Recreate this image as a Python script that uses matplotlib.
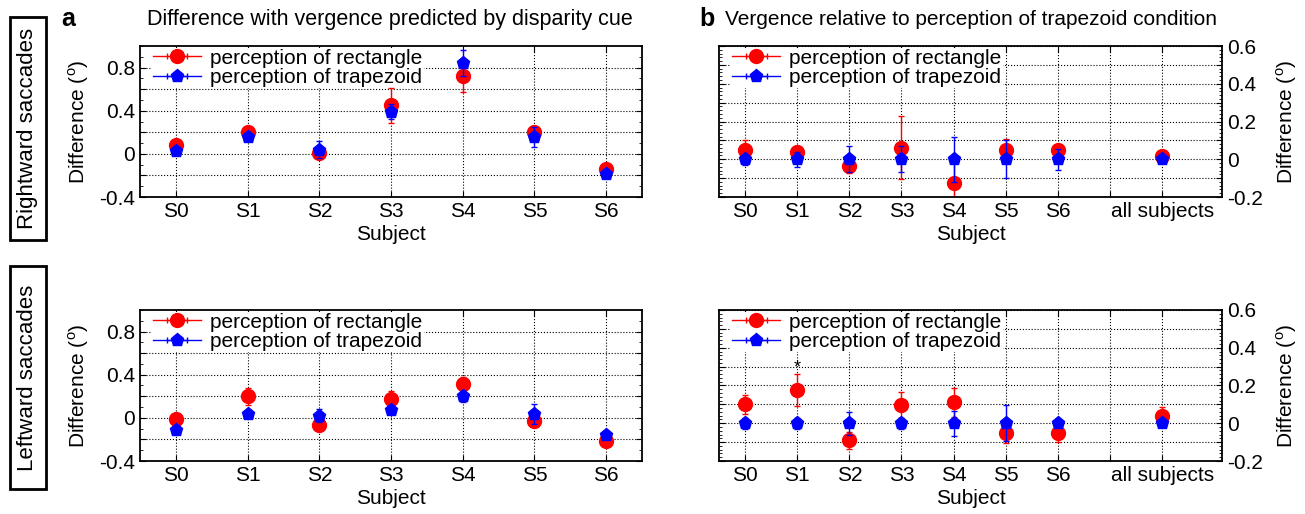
import numpy as np
import matplotlib
matplotlib.use('Agg')
import matplotlib.pyplot as plt
from matplotlib.patches import Rectangle
from matplotlib.ticker import MultipleLocator

plt.rcParams['font.family'] = ['Liberation Sans', 'DejaVu Sans']
plt.rcParams['mathtext.fontset'] = 'custom'
plt.rcParams['mathtext.rm'] = 'Liberation Sans'

subjects = ['S0', 'S1', 'S2', 'S3', 'S4', 'S5', 'S6']
subjects_b = ['S0', 'S1', 'S2', 'S3', 'S4', 'S5', 'S6', '', 'all subjects']

# panel a: difference with vergence predicted by disparity cue
a_right_rect = [0.08, 0.20, 0.01, 0.45, 0.72, 0.20, -0.14]
a_right_rect_err = [0.03, 0.02, 0.03, 0.16, 0.15, 0.05, 0.02]
a_right_trap = [0.03, 0.16, 0.04, 0.39, 0.84, 0.155, -0.19]
a_right_trap_err = [0.02, 0.02, 0.08, 0.07, 0.12, 0.09, 0.03]

a_left_rect = [-0.01, 0.20, -0.07, 0.175, 0.31, -0.025, -0.21]
a_left_rect_err = [0.02, 0.08, 0.02, 0.07, 0.07, 0.04, 0.03]
a_left_trap = [-0.11, 0.035, 0.02, 0.077, 0.20, 0.035, -0.16]
a_left_trap_err = [0.02, 0.02, 0.06, 0.02, 0.05, 0.09, 0.03]

# panel b: vergence relative to perception of trapezoid (S0..S6, all subjects)
b_pos = [0, 1, 2, 3, 4, 5, 6, 8]
b_right_rect = [0.047, 0.04, -0.034, 0.06, -0.127, 0.047, 0.047, 0.015]
b_right_rect_err = [0.055, 0.03, 0.04, 0.167, 0.13, 0.06, 0.02, 0.01]
b_right_trap = [0, 0, 0, 0, 0, 0, 0, 0]
b_right_trap_err = [0.03, 0.04, 0.07, 0.07, 0.12, 0.10, 0.055, 0.01]

b_left_rect = [0.10, 0.175, -0.09, 0.096, 0.11, -0.053, -0.05, 0.04]
b_left_rect_err = [0.05, 0.085, 0.045, 0.07, 0.075, 0.05, 0.05, 0.045]
b_left_trap = [0, 0, 0, 0, 0, 0, 0, 0]
b_left_trap_err = [0.03, 0.03, 0.06, 0.03, 0.065, 0.095, 0.02, 0.01]

fs = 15
fig = plt.figure(figsize=(13.05, 5.14), dpi=100)

ylab = r'Difference ($^{\rm o}$)'


def draw(ax, x, r, re, t, te, anchor):
    ax.errorbar(x, r, yerr=re, fmt='o', color='#ff0000', ms=10, capsize=2.5,
                elinewidth=1, capthick=1, zorder=3)
    ax.errorbar(x, t, yerr=te, fmt='p', color='#0000ff', ms=9.5, capsize=2.5,
                elinewidth=1, capthick=1, zorder=4)
    # legend proxies with horizontal bars
    h1 = ax.errorbar([np.nan], [np.nan], xerr=[np.nan], fmt='-o', color='#ff0000',
                     ms=10, capsize=2.5, lw=1, label='perception of rectangle')
    h2 = ax.errorbar([np.nan], [np.nan], xerr=[np.nan], fmt='-p', color='#0000ff',
                     ms=9.5, capsize=2.5, lw=1, label='perception of trapezoid')
    leg = ax.legend(handles=[h1, h2], loc='upper left', fontsize=fs, frameon=True,
                    framealpha=1, edgecolor='none', fancybox=False,
                    handlelength=2.3, handletextpad=0.45, labelspacing=0.02,
                    borderpad=0.05, borderaxespad=0, bbox_to_anchor=anchor)
    leg.set_zorder(2)
    ax.grid(True, which='major', color='black', linestyle=':', linewidth=0.8)
    ax.set_axisbelow(True)
    ax.tick_params(which='both', direction='in', top=True, right=True,
                   labelsize=fs)
    ax.tick_params(which='major', length=4)
    ax.tick_params(which='minor', length=2)
    for s in ax.spines.values():
        s.set_linewidth(1.3)
        s.set_zorder(6)


rows = [(0.6167, a_right_rect, a_right_rect_err, a_right_trap, a_right_trap_err,
         b_right_rect, b_right_rect_err, b_right_trap, b_right_trap_err),
        (0.1031, a_left_rect, a_left_rect_err, a_left_trap, a_left_trap_err,
         b_left_rect, b_left_rect_err, b_left_trap, b_left_trap_err)]

for i, row in enumerate(rows):
    y0 = row[0]
    # panel a
    ax = fig.add_axes([0.1073, y0, 0.3847, 0.2938])
    draw(ax, range(len(subjects)), row[1], row[2], row[3], row[4], (0.024, 0.99))
    ax.set_xlim(-0.5, 6.5)
    ax.set_ylim(-0.4, 1.0)
    ax.set_xticks(range(len(subjects)))
    ax.set_xticklabels(subjects)
    ax.set_yticks(np.arange(-0.4, 0.81, 0.2))
    ax.set_yticklabels(['-0.4', '', '0', '', '0.4', '', '0.8'])
    ax.yaxis.set_minor_locator(MultipleLocator(0.1))
    ax.set_xlabel('Subject', fontsize=fs, labelpad=3)
    ax.set_ylabel(ylab, fontsize=fs, labelpad=6)

    # panel b
    bx = fig.add_axes([0.551, y0, 0.3854, 0.2938])
    draw(bx, b_pos, row[5], row[6], row[7], row[8], (0.024, 0.99))
    bx.set_xlim(-0.5, 9.15)
    bx.set_ylim(-0.2, 0.6)
    bx.set_xticks(range(len(subjects_b)))
    bx.set_xticklabels(subjects_b)
    bx.set_yticks(np.arange(-0.2, 0.61, 0.1))
    bx.set_yticklabels(['-0.2', '', '0', '', '0.2', '', '0.4', '', '0.6'])
    bx.yaxis.set_minor_locator(MultipleLocator(0.02))
    bx.tick_params(labelleft=False, labelright=True)
    bx.yaxis.set_label_position('right')
    bx.set_xlabel('Subject', fontsize=fs, labelpad=3)
    bx.set_ylabel(ylab, fontsize=fs, labelpad=8)
    if i == 1:
        bx.text(1, 0.295, '*', ha='center', va='center', fontsize=13)

# titles and panel letters
fig.text(0.299, 0.963, 'Difference with vergence predicted by disparity cue',
         ha='center', va='center', fontsize=15.5)
fig.text(0.744, 0.963, 'Vergence relative to perception of trapezoid condition',
         ha='center', va='center', fontsize=fs)
fig.text(0.0525, 0.963, 'a', ha='center', va='center', fontsize=18, fontweight='bold')
fig.text(0.542, 0.963, 'b', ha='center', va='center', fontsize=18, fontweight='bold')

# row labels in boxes
for ytop, ybot, lab in [(17, 240, 'Rightward saccades'), (266, 489, 'Leftward saccades')]:
    fig.patches.append(Rectangle((10 / 1305, 1 - ybot / 514), 36 / 1305, (ybot - ytop) / 514,
                                 transform=fig.transFigure, fill=False,
                                 edgecolor='black', linewidth=2))
    fig.text(28 / 1305, 1 - (ytop + ybot) / 2 / 514, lab, rotation=90,
             ha='center', va='center', fontsize=16)

fig.savefig('out.png', dpi=100)
